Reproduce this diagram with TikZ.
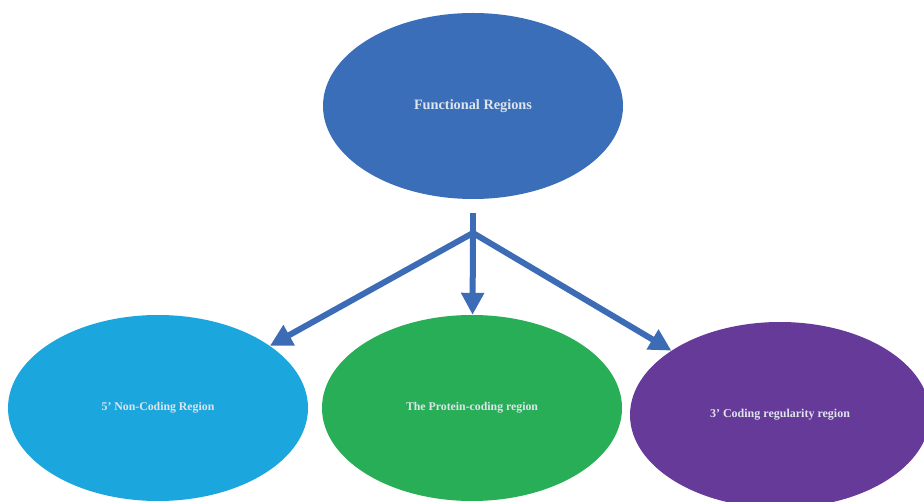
\documentclass[tikz,border=0pt]{standalone}
\usepackage{fontspec}
\setmainfont{Liberation Serif}
\usetikzlibrary{shapes.geometric,arrows.meta}
\definecolor{topblue}{RGB}{58,110,184}
\definecolor{lightblue}{RGB}{28,166,222}
\definecolor{greenc}{RGB}{40,174,86}
\definecolor{purplec}{RGB}{102,58,152}
\definecolor{arrowc}{RGB}{60,108,182}
\definecolor{txtc}{RGB}{222,228,236}
\tikzset{
  region/.style={ellipse, inner sep=0pt, minimum width=300pt, minimum height=186pt, text=txtc, font=\bfseries},
  conn/.style={draw=arrowc, line width=6pt},
  arr/.style={conn, -{Triangle[width=22pt,length=22pt]}}
}
\begin{document}
\begin{tikzpicture}[x=1pt,y=-1pt]
\useasboundingbox (0,0) rectangle (924,502);
\clip (0,0) rectangle (924,502);
\fill[white] (0,0) rectangle (924,502);
\node[region, fill=topblue, font=\bfseries\fontsize{14.3}{16}\selectfont] (top) at (473,106) {Functional Regions};
\node[region, fill=lightblue, font=\bfseries\fontsize{11.8}{14}\selectfont] (left) at (158,408) {5' Non-Coding Region};
\node[region, fill=greenc, font=\bfseries\fontsize{11.8}{14}\selectfont] (mid) at (472,408) {The Protein-coding region};
\node[region, fill=purplec, font=\bfseries\fontsize{12}{14}\selectfont] (right) at (780,415) {3' Coding regularity region};
\coordinate (j) at (473,233);
\coordinate (s) at (473,213);
\draw[conn] (s) -- (j);
\draw[arr] (j) -- (left);
\draw[arr] (j) -- (mid);
\draw[arr] (j) -- (right);
\end{tikzpicture}
\end{document}
